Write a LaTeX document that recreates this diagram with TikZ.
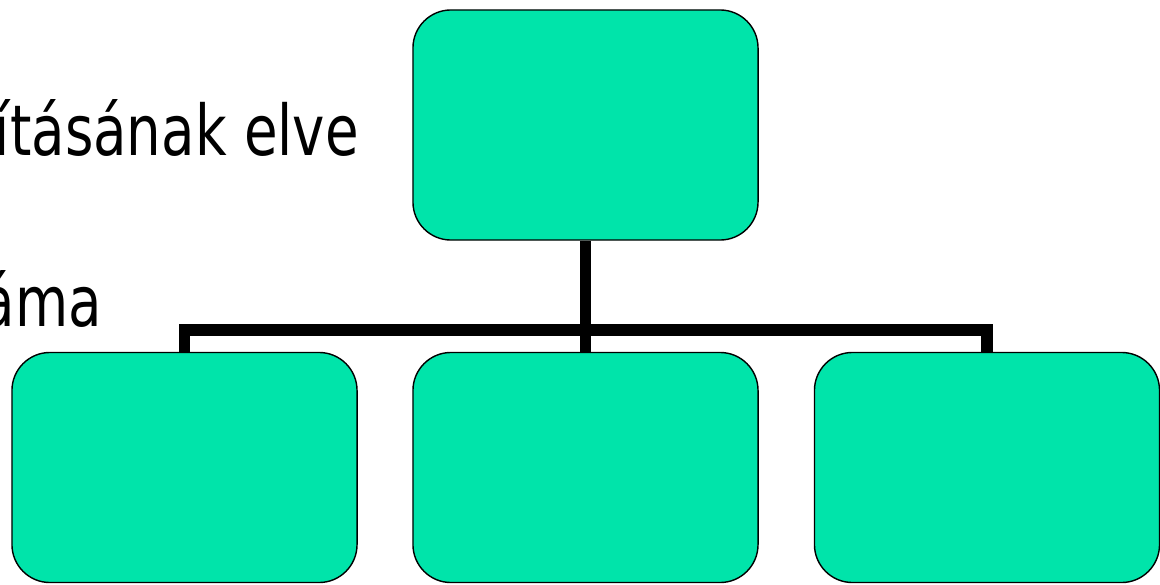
\documentclass[tikz,border=0pt]{standalone}
\usepackage{fontspec}
\setmainfont{DejaVu Sans}
\definecolor{boxgreen}{RGB}{0,228,170}
\begin{document}
\begin{tikzpicture}[x=0.025cm,y=-0.025cm,
		orgbox/.style={draw,line width=1pt,fill=boxgreen,rounded corners=0.95cm,minimum width=8.625cm,minimum height=5.75cm,inner sep=0pt},
		link/.style={line width=8.2pt},
		slidetext/.style={inner sep=0pt,font=\fontsize{49.8}{60}\selectfont}]
		\clip (0,0) rectangle (1160,585);
		% text of the slide behind the chart
		\node[slidetext,anchor=base east] (elve) at (359,155) {\scalebox{0.78}[1]{ításának elve}};
		\node[slidetext,anchor=base east] (ama) at (102,326) {\scalebox{0.78}[1]{áma}};
		
		\node[orgbox] (top) at (585.5,125) {};
		\node[orgbox] (left) at (184.5,467.5) {};
		\node[orgbox] (mid) at (585.5,467.5) {};
		\node[orgbox] (right) at (987,467.5) {};
		\coordinate (bar) at (585.5,330);
		
		\draw[link] (left.north) |- (bar) -| (right.north);
		\draw[link] (top.south) -- (mid.north);
\end{tikzpicture}
\end{document}
